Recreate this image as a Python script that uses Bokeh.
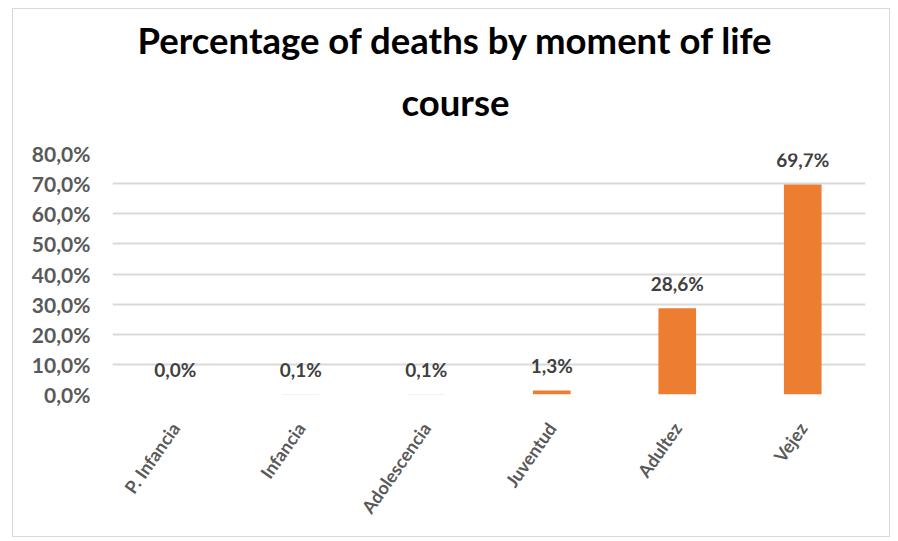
from bokeh.plotting import figure
from bokeh.models import ColumnDataSource, LabelSet, FixedTicker, FactorRange, Range1d, Title
from bokeh.core.properties import value
from bokeh.embed import file_html
from bokeh.resources import INLINE

categories = ["P. Infancia", "Infancia", "Adolescencia", "Juventud", "Adultez", "Vejez"]
values = [0.0, 0.1, 0.1, 1.3, 28.6, 69.7]
y_ticks = [0, 10, 20, 30, 40, 50, 60, 70, 80]
y_tick_labels = ["0,0%", "10,0%", "20,0%", "30,0%", "40,0%", "50,0%", "60,0%", "70,0%", "80,0%"]
title_line1 = "Percentage of deaths by moment of life"
title_line2 = "course"

labels = [f"{v:.1f}%".replace(".", ",") for v in values]
source = ColumnDataSource(dict(cat=categories, val=values, lab=labels))

FONT = "Lato"

p = figure(
    width=878, height=529, title=None,
    x_range=FactorRange(factors=categories, range_padding=0),
    y_range=Range1d(0, 80),
    output_backend="svg", toolbar_location=None,
    min_border_left=99, min_border_right=26, min_border_top=144, min_border_bottom=144,
)
p.styles = {"border": "1px solid #d9d9d9", "margin-left": "12px", "margin-top": "8px"}

t2 = Title(text=title_line2, align="left", offset=289, text_font=FONT, text_font_size="36.5px",
           text_font_style="bold", text_color="#000000", standoff=59)
t1 = Title(text=title_line1, align="left", offset=25, text_font=FONT, text_font_size="36.5px",
           text_font_style="bold", text_color="#000000", standoff=-27)
p.add_layout(t2, "above")
p.add_layout(t1, "above")

p.vbar(x="cat", top="val", width=0.3, source=source, color="#ED7D31", line_color=None)

p.add_layout(LabelSet(x="cat", y="val", text="lab", source=source,
                      text_align="center", text_baseline="middle", y_offset=25,
                      text_font=value(FONT), text_font_size="19px", text_font_style="bold",
                      text_color="#404040"))

p.outline_line_color = None
p.background_fill_color = "white"
p.border_fill_color = "white"

p.xgrid.grid_line_color = None
p.ygrid.grid_line_color = "#d9d9d9"
p.ygrid.grid_line_width = 2
p.ygrid.ticker = FixedTicker(ticks=y_ticks)

p.yaxis.ticker = FixedTicker(ticks=y_ticks)
p.yaxis.major_label_overrides = {t: l for t, l in zip(y_ticks, y_tick_labels)}
p.yaxis.axis_line_color = None
p.yaxis.major_tick_line_color = None
p.yaxis.minor_tick_line_color = None
p.yaxis.major_label_standoff = 16
p.yaxis.major_label_text_font = FONT
p.yaxis.major_label_text_font_size = "21px"
p.yaxis.major_label_text_font_style = "bold"
p.yaxis.major_label_text_color = "#595959"

p.xaxis.axis_line_color = None
p.xaxis.major_tick_line_color = None
p.xaxis.minor_tick_line_color = None
p.xaxis.major_label_orientation = 0.96
p.xaxis.major_label_standoff = 24
p.xaxis.major_label_text_font = FONT
p.xaxis.major_label_text_font_size = "18px"
p.xaxis.major_label_text_font_style = "bold"
p.xaxis.major_label_text_color = "#595959"

open("out.html", "w").write(file_html(p, INLINE))
